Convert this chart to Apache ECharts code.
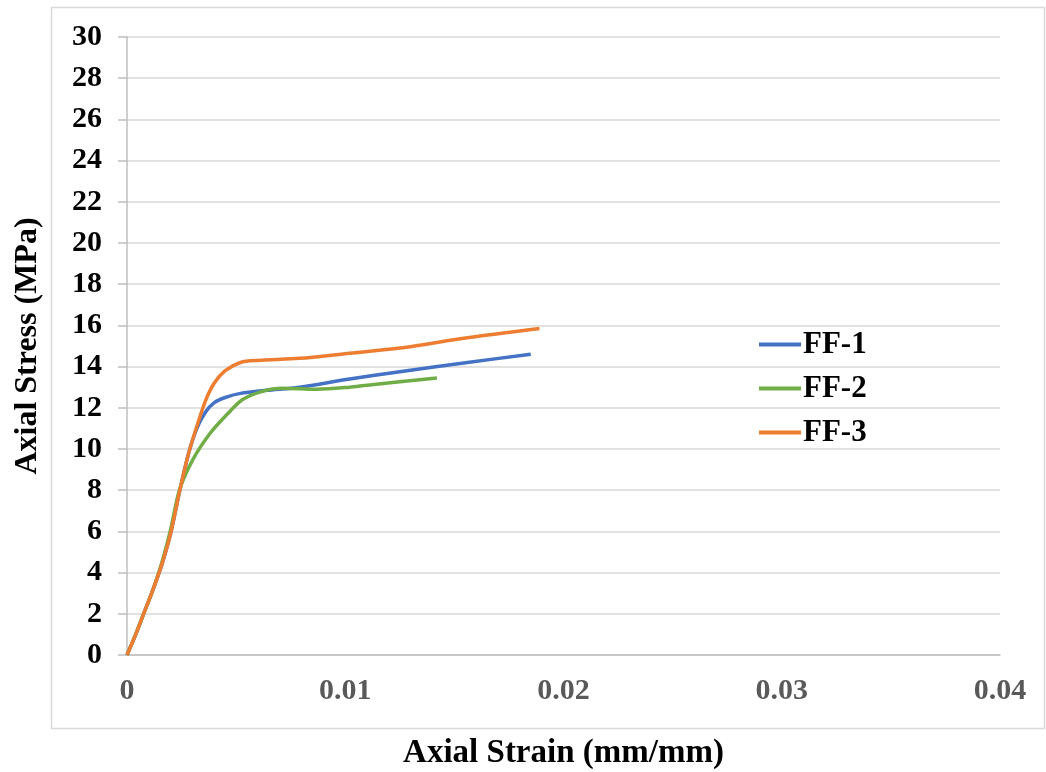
<!DOCTYPE html>
<html>
<head>
<meta charset="utf-8">
<title>Axial Stress vs Axial Strain</title>
<script src="https://cdn.jsdelivr.net/npm/echarts@6/dist/echarts.min.js"></script>
<style>
  html, body { margin: 0; padding: 0; background: #fff; }
  #chart { width: 1046px; height: 772px; }
</style>
</head>
<body>
<div id="chart"></div>
<script>
// strain (mm/mm), stress (MPa)
const ff1Strain = [0, 0.0004, 0.0008, 0.0012, 0.0016, 0.002, 0.0024, 0.0028, 0.0032, 0.0036, 0.004, 0.0045, 0.0052, 0.0064, 0.0079, 0.0102, 0.0125, 0.0156, 0.0185]
const ff1Stress = [0, 1.0, 2.1, 3.2, 4.4, 5.9, 7.9, 9.7, 11.0, 11.8, 12.25, 12.5, 12.7, 12.85, 13.0, 13.4, 13.75, 14.2, 14.6]

const ff2Strain = [0, 0.0004, 0.0008, 0.0012, 0.0016, 0.002, 0.0024, 0.003, 0.0038, 0.0046, 0.0053, 0.0062, 0.0071, 0.0087, 0.0102, 0.011, 0.0142]
const ff2Stress = [0, 1.0, 2.1, 3.2, 4.5, 6.1, 8.0, 9.45, 10.75, 11.7, 12.4, 12.8, 12.95, 12.9, 13.0, 13.1, 13.45]

const ff3Strain = [0, 0.0004, 0.0008, 0.0012, 0.0016, 0.002, 0.0024, 0.0028, 0.0032, 0.0036, 0.004, 0.0045, 0.0052, 0.006, 0.0079, 0.0102, 0.0125, 0.0156, 0.0189]
const ff3Stress = [0, 1.0, 2.1, 3.2, 4.4, 5.9, 7.9, 9.7, 11.1, 12.35, 13.2, 13.8, 14.2, 14.3, 14.4, 14.65, 14.9, 15.4, 15.85]

const seriesNames = ['FF-1', 'FF-2', 'FF-3']
const colors = ['#4472C4', '#70AD47', '#ED7D31']

const font = 'Liberation Serif'

function pairs(xs, ys) {
  return xs.map((x, i) => [x, ys[i]])
}

const chart = echarts.init(document.getElementById('chart'))

const lineSeries = (name, data, color) => ({
  name,
  type: 'line',
  data,
  smooth: 0.3,
  showSymbol: false,
  symbol: 'none',
  lineStyle: { width: 3.5, color },
  itemStyle: { color },
  animation: false
})

chart.setOption({
  backgroundColor: '#fff',
  grid: { left: 127, right: 46, top: 37, bottom: 117, outerBoundsMode: 'none', containLabel: false },
  graphic: [{
    type: 'rect',
    shape: { x: 51.5, y: 7.5, width: 993, height: 721 },
    style: { fill: 'none', stroke: '#d9d9d9', lineWidth: 1.5 },
    silent: true
  }],
  legend: {
    orient: 'vertical',
    left: 754,
    top: 324,
    itemWidth: 42,
    itemHeight: 4,
    itemGap: 13,
    icon: 'rect',
    data: seriesNames,
    textStyle: { fontFamily: font, fontWeight: 'bold', fontSize: 31, color: '#000', padding: [0, 0, 0, -3] }
  },
  xAxis: {
    type: 'value',
    min: 0,
    max: 0.04,
    interval: 0.01,
    name: 'Axial Strain (mm/mm)',
    nameLocation: 'middle',
    nameGap: 82,
    nameTextStyle: { fontFamily: font, fontWeight: 'bold', fontSize: 33, color: '#000' },
    axisLine: { show: true, lineStyle: { color: '#bfbfbf', width: 1.5 } },
    axisTick: { show: false },
    splitLine: { show: false },
    axisLabel: {
      margin: 21,
      fontFamily: font, fontWeight: 'bold', fontSize: 30, color: '#595959',
      formatter: v => v === 0 ? '0' : String(+v.toFixed(2))
    }
  },
  yAxis: {
    type: 'value',
    min: 0,
    max: 30,
    interval: 2,
    name: 'Axial Stress (MPa)',
    nameLocation: 'middle',
    nameGap: 83,
    nameTextStyle: { fontFamily: font, fontWeight: 'bold', fontSize: 32, color: '#000' },
    axisLine: { show: true, lineStyle: { color: '#bfbfbf', width: 1.5 } },
    axisTick: { show: true, inside: false, length: 9, lineStyle: { color: '#bfbfbf', width: 1.5 } },
    splitLine: { show: true, lineStyle: { color: '#d9d9d9', width: 1.5 } },
    axisLabel: {
      margin: 25,
      fontFamily: font, fontWeight: 'bold', fontSize: 30, color: '#000'
    }
  },
  series: [
    lineSeries('FF-1', pairs(ff1Strain, ff1Stress), colors[0]),
    lineSeries('FF-2', pairs(ff2Strain, ff2Stress), colors[1]),
    lineSeries('FF-3', pairs(ff3Strain, ff3Stress), colors[2])
  ]
})
</script>
</body>
</html>
